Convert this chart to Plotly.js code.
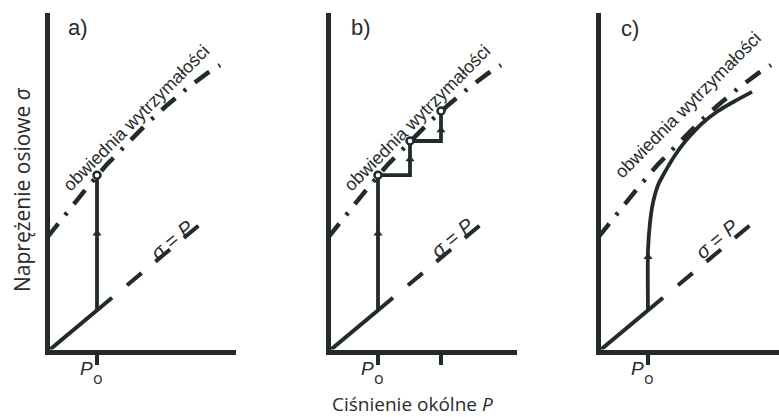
<!DOCTYPE html>
<html>
<head>
<meta charset="utf-8">
<script src="https://cdn.plot.ly/plotly-3.0.1.min.js"></script>
<style>
  html, body { margin: 0; padding: 0; background: #ffffff; }
  #chart { width: 779px; height: 417px; }
</style>
</head>
<body>
<div id="chart"></div>
<script>
// Stress paths in triaxial testing: axial stress σ against confining pressure P.
const INK = '#222a2a';
const TEXT = '#2b2b2b';
const FONT = '"Open Sans", "Noto Sans", sans-serif';
const FONT_ARIAL = '"Liberation Sans", Arial, sans-serif';

// initial confining pressure
const P_o = 5;

// strength envelope (slightly concave)
const envelopeP = [0, 2, 4, 6, 8, 10, 12, 14, 16, 17.3];
const envelopeS = [13.7, 16.8, 19.7, 22.5, 25.0, 27.4, 29.6, 31.6, 33.4, 34.4];

// hydrostatic line σ = P: solid near the origin, dashed further out
const equalSolidP = [0, 6.5];
const equalDashP = [8.0, 15.3];

// a) single loading path at constant P
const pathA_P = [5, 5];
const pathA_S = [5, 21.2];
const failA_P = [5];
const failA_S = [21.2];
const arrowA_P = [5];
const arrowA_S = [14.2];

// b) stepped path: failure, raise P, reload
const pathB_P = [5, 5, 8.2, 8.2, 11.3, 11.3];
const pathB_S = [5, 21.2, 21.2, 25.3, 25.3, 28.9];
const failB_P = [5, 8.2, 11.3];
const failB_S = [21.2, 25.3, 28.9];
const arrowB_P = [5, 8.2, 11.3];
const arrowB_S = [14.2, 23.1, 26.6];
const ticksB = [5, 11.3];

// c) continuous path bending along the envelope
const pathC_P = [5, 5, 5.2, 5.5, 6.0, 6.7, 7.7, 8.9, 10.4, 12.0, 13.7, 15.4];
const pathC_S = [5, 12.2, 15.5, 17.9, 20.0, 21.6, 23.6, 25.5, 27.4, 28.9, 30.1, 31.2];
const arrowC_P = [5];
const arrowC_S = [11.4];

function panelTraces(ax, path, fails, arrows, spline) {
  const xa = 'x' + ax, ya = 'y' + ax;
  const t = [];
  t.push({ x: envelopeP, y: envelopeS, xaxis: xa, yaxis: ya, mode: 'lines', hoverinfo: 'skip',
           line: { color: INK, width: 4.5, dash: '18px,11px,3px,11px' } });
  t.push({ x: equalSolidP, y: equalSolidP, xaxis: xa, yaxis: ya, mode: 'lines', hoverinfo: 'skip',
           line: { color: INK, width: 4 } });
  t.push({ x: equalDashP, y: equalDashP, xaxis: xa, yaxis: ya, mode: 'lines', hoverinfo: 'skip',
           line: { color: INK, width: 4, dash: '19px,18px' } });
  t.push({ x: path[0], y: path[1], xaxis: xa, yaxis: ya, mode: 'lines', hoverinfo: 'skip',
           line: { color: INK, width: 3.8, shape: spline ? 'spline' : 'linear', smoothing: 0.8 } });
  t.push({ x: arrows[0], y: arrows[1], xaxis: xa, yaxis: ya, mode: 'markers', hoverinfo: 'skip',
           marker: { symbol: 'triangle-up', size: 8, color: INK } });
  if (fails) {
    t.push({ x: fails[0], y: fails[1], xaxis: xa, yaxis: ya, mode: 'markers', hoverinfo: 'skip',
             marker: { symbol: 'circle', size: 7, color: '#ffffff', line: { color: INK, width: 2.5 } } });
  }
  return t;
}

const data = [].concat(
  panelTraces('', [pathA_P, pathA_S], [failA_P, failA_S], [arrowA_P, arrowA_S], false),
  panelTraces('2', [pathB_P, pathB_S], [failB_P, failB_S], [arrowB_P, arrowB_S], false),
  panelTraces('3', [pathC_P, pathC_S], null, [arrowC_P, arrowC_S], true)
);

const W = 779, H = 417;
const AXIS_LW = 5;
const yDom = [67.5 / H, 404 / H];
const yRange = [0.3, 40.65];

function xAxis(left, right, max, ticks, anchor) {
  return { domain: [left / W, right / W], range: [0.25, max], anchor: anchor,
           showline: true, linewidth: AXIS_LW, linecolor: INK, showgrid: false, zeroline: false,
           ticks: 'outside', tickvals: ticks, ticklen: 10, tickwidth: 4, tickcolor: INK,
           showticklabels: false, fixedrange: true };
}
function yAxis(anchor) {
  return { domain: yDom, range: yRange, anchor: anchor,
           showline: true, linewidth: AXIS_LW, linecolor: INK, showgrid: false, zeroline: false,
           ticks: '', showticklabels: false, fixedrange: true };
}

function txt(text, x, y, size, family, extra) {
  return Object.assign({ text: text, x: x, y: y, xref: 'paper', yref: 'paper', showarrow: false,
           xanchor: 'center', yanchor: 'middle', font: { family: family, size: size, color: TEXT } }, extra || {});
}

const annotations = [
  txt('a)', 78 / W, 1 - 27 / H, 22, FONT_ARIAL),
  txt('b)', 361 / W, 1 - 27 / H, 22, FONT_ARIAL),
  txt('c)', 630 / W, 1 - 28 / H, 22, FONT_ARIAL),
  txt('Ciśnienie okólne <i>P</i>', 412 / W, 1 - 404 / H, 19, FONT),
  txt('Naprężenie osiowe <i>σ</i>', 22 / W, 1 - 190 / H, 21, FONT, { textangle: -90 })
];

// envelope and σ = P labels, placed along their lines
const alongLabels = [
  ['', 8.9, 28.1, 12.5, 13.4],
  ['2', 8.9, 28.1, 12.4, 13.7],
  ['3', 9.0, 29.6, 11.9, 13.5]
];
alongLabels.forEach(function (l) {
  annotations.push({ text: 'obwiednia wytrzymałości', x: l[1], y: l[2], xref: 'x' + l[0], yref: 'y' + l[0],
                     showarrow: false, textangle: -45, xanchor: 'center', yanchor: 'middle',
                     font: { family: FONT_ARIAL, size: 18, color: TEXT } });
  annotations.push({ text: '<i>σ</i> = <i>P</i>', x: l[3], y: l[4], xref: 'x' + l[0], yref: 'y' + l[0],
                     showarrow: false, textangle: -40, xanchor: 'center', yanchor: 'middle',
                     font: { family: FONT_ARIAL, size: 20, color: TEXT } });
  // P_o label under the tick
  annotations.push({ text: '<i>P</i>', x: P_o, y: 1 - 368 / H, xref: 'x' + l[0], yref: 'paper',
                     xshift: -10.5, showarrow: false, xanchor: 'center', yanchor: 'middle',
                     font: { family: FONT_ARIAL, size: 19, color: TEXT } });
  annotations.push({ text: 'o', x: P_o, y: 1 - 378 / H, xref: 'x' + l[0], yref: 'paper',
                     xshift: 0.5, showarrow: false, xanchor: 'center', yanchor: 'middle',
                     font: { family: FONT, size: 16, color: TEXT } });
});

const layout = {
  width: W, height: H,
  margin: { l: 0, r: 0, t: 0, b: 0, pad: 0 },
  paper_bgcolor: '#ffffff', plot_bgcolor: '#ffffff',
  showlegend: false,
  xaxis: xAxis(49.5, 236, 18.9, [P_o], 'y'),
  xaxis2: xAxis(330.5, 517, 18.9, ticksB, 'y2'),
  xaxis3: xAxis(600.5, 779, 18.1, [P_o], 'y3'),
  yaxis: yAxis('x'),
  yaxis2: yAxis('x2'),
  yaxis3: yAxis('x3'),
  annotations: annotations
};

Plotly.newPlot('chart', data, layout, { staticPlot: true, displayModeBar: false });
</script>
</body>
</html>
